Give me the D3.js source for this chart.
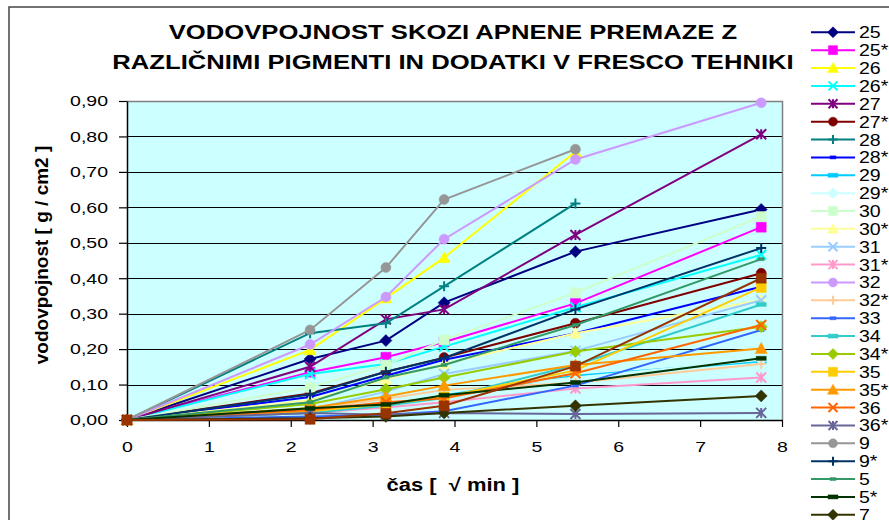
<!DOCTYPE html>
<html>
<head>
<meta charset="utf-8">
<script src="https://cdn.jsdelivr.net/npm/d3@7"></script>
<style>
  html, body { margin: 0; padding: 0; background: #fff; }
  svg { display: block; font-family: "Liberation Sans", Arial, sans-serif; }
</style>
</head>
<body>
<svg id="chart" width="889" height="520"></svg>
<script>
// Time axis: square root of minutes (√5, √10, √15, √30, √60)
const times = [0, 2.236, 3.162, 3.873, 5.477, 7.746];

const seriesNames = ["25", "25*", "26", "26*", "27", "27*", "28", "28*", "29", "29*",
  "30", "30*", "31", "31*", "32", "32*", "33", "34", "34*", "35", "35*", "36", "36*",
  "9", "9*", "5", "5*", "7", "7*"];

// Water uptake [g / cm2] per sample
const v25  = [0, 0.172, 0.224, 0.331, 0.475, 0.594];
const v25s = [0, 0.135, 0.177, 0.220, 0.329, 0.544];
const v26  = [0, 0.198, 0.344, 0.458, 0.757, null];
const v26s = [0, 0.130, 0.158, 0.207, 0.318, 0.466];
const v27  = [0, 0.150, 0.284, 0.312, 0.522, 0.806];
const v27s = [0, 0.075, 0.136, 0.176, 0.273, 0.414];
const v28  = [0, 0.245, 0.273, 0.377, 0.611, null];
const v28s = [0, 0.065, 0.125, 0.170, 0.245, 0.376];
const v29  = [0, 0.020, 0.040, 0.070, 0.125, 0.165];
const v29s = [0, 0.030, 0.050, 0.080, 0.120, 0.170];
const v30  = [0, 0.092, 0.155, 0.226, 0.359, 0.574];
const v30s = [0, 0.056, 0.115, 0.158, 0.245, 0.338];
const v31  = [0, 0.030, 0.080, 0.130, 0.195, 0.338];
const v31s = [0, 0.020, 0.035, 0.050, 0.089, 0.120];
const v32  = [0, 0.213, 0.347, 0.510, 0.735, 0.895];
const v32s = [0, 0.030, 0.060, 0.085, 0.105, 0.158];
const v33  = [0, 0.010, 0.015, 0.025, 0.097, 0.254];
const v34  = [0, 0.020, 0.040, 0.062, 0.155, 0.326];
const v34s = [0, 0.045, 0.087, 0.120, 0.193, 0.263];
const v35  = [0, 0.025, 0.045, 0.065, 0.140, 0.374];
const v35s = [0, 0.034, 0.066, 0.097, 0.155, 0.202];
const v36  = [0, 0.028, 0.050, 0.061, 0.132, 0.268];
const v36s = [0, 0.020, 0.015, 0.020, 0.017, 0.020];
const v9   = [0, 0.254, 0.430, 0.622, 0.764, null];
const v9s  = [0, 0.072, 0.136, 0.175, 0.312, 0.485];
const v5   = [0, 0.050, 0.120, 0.155, 0.268, 0.454];
const v5s  = [0, 0.033, 0.044, 0.070, 0.106, 0.174];
const v7   = [0, 0.005, 0.010, 0.020, 0.040, 0.068];
const v7s  = [0, 0.002, 0.019, 0.040, 0.152, 0.400];

const seriesValues = [v25, v25s, v26, v26s, v27, v27s, v28, v28s, v29, v29s,
  v30, v30s, v31, v31s, v32, v32s, v33, v34, v34s, v35, v35s, v36, v36s,
  v9, v9s, v5, v5s, v7, v7s];

const seriesColors = ["#000080", "#FF00FF", "#FFFF00", "#00FFFF", "#800080", "#800000",
  "#008080", "#0000FF", "#00CCFF", "#CCFFFF", "#CCFFCC", "#FFFF99", "#99CCFF", "#FF99CC",
  "#CC99FF", "#FFCC99", "#3366FF", "#33CCCC", "#99CC00", "#FFCC00", "#FF9900", "#FF6600",
  "#666699", "#969696", "#003366", "#339966", "#003300", "#333300", "#993300"];

const seriesMarkers = ["diamond", "square", "triangle", "x", "star", "circle",
  "plus", "dash", "longdash", "diamond", "square", "triangle", "x", "star",
  "circle", "plus", "dash", "longdash", "diamond", "square", "triangle", "x",
  "star", "circle", "plus", "dash", "longdash", "diamond", "square"];

const yTicks = [0, 0.1, 0.2, 0.3, 0.4, 0.5, 0.6, 0.7, 0.8, 0.9];
const xTicks = [0, 1, 2, 3, 4, 5, 6, 7, 8];

const titleLines = ["VODOVPOJNOST SKOZI APNENE PREMAZE Z",
  "RAZLIČNIMI PIGMENTI IN DODATKI V FRESCO TEHNIKI"];
const yTitle = "vodovpojnost [ g / cm2 ]";
const xTitle = "čas [  √ min ]";

const svg = d3.select("#chart");
const plot = { left: 127, right: 782, top: 101, bottom: 420 };

const x = d3.scaleLinear().domain([0, 8]).range([plot.left, plot.right]);
const y = d3.scaleLinear().domain([0, 0.9]).range([plot.bottom, plot.top]);

const fmt = d3.formatLocale({ decimal: ",", thousands: ".", grouping: [3], currency: ["", ""] }).format(".2f");

// Wide-set lettering: widen each text run by a factor
function widen(sel, factor) {
  sel.each(function () {
    const w = this.getComputedTextLength();
    d3.select(this).attr("textLength", w * factor).attr("lengthAdjust", "spacingAndGlyphs");
  });
}

// Outer chart frame
svg.append("rect").attr("x", 9).attr("y", 7).attr("width", 900).attr("height", 540)
  .attr("fill", "#fff").attr("stroke", "#444").attr("stroke-width", 1.5);

// Plot background
svg.append("rect")
  .attr("x", plot.left).attr("y", plot.top)
  .attr("width", plot.right - plot.left).attr("height", plot.bottom - plot.top)
  .attr("fill", "#CCFFFF");

// Horizontal gridlines
svg.append("g").selectAll("line")
  .data(yTicks.filter(t => t > 0 && t < 0.9))
  .join("line")
  .attr("x1", plot.left).attr("x2", plot.right)
  .attr("y1", d => Math.round(y(d)) + 0.5).attr("y2", d => Math.round(y(d)) + 0.5)
  .attr("stroke", "#000").attr("stroke-width", 1);

// Plot border (top / right)
svg.append("path")
  .attr("d", `M${plot.left},${plot.top + 0.5}H${plot.right + 0.5}V${plot.bottom}`)
  .attr("fill", "none").attr("stroke", "#808080").attr("stroke-width", 1.5);

// Axes
const yAxis = svg.append("g")
  .attr("transform", `translate(${plot.left},0)`)
  .call(d3.axisLeft(y).tickValues(yTicks).tickFormat(fmt).tickSize(8).tickSizeOuter(0).tickPadding(11));
const xAxis = svg.append("g")
  .attr("transform", `translate(0,${plot.bottom})`)
  .call(d3.axisBottom(x).tickValues(xTicks).tickFormat(d3.format("d")).tickSize(7).tickSizeOuter(0).tickPadding(14));

[yAxis, xAxis].forEach(g => {
  g.select(".domain").attr("stroke", "#000").attr("stroke-width", 1.5);
  g.selectAll(".tick line").attr("stroke", "#000").attr("stroke-width", 1.2);
  g.selectAll(".tick text").attr("fill", "#000").style("font-size", "15px")
    .style("font-family", "'Liberation Sans', Arial, sans-serif");
  widen(g.selectAll(".tick text"), 1.3);
});

// Marker shapes
function markerPath(kind, s) {
  const h = s / 2;
  switch (kind) {
    case "diamond": return `M0,${-h - 1}L${h + 1},0L0,${h + 1}L${-h - 1},0Z`;
    case "square": return `M${-h},${-h}H${h}V${h}H${-h}Z`;
    case "triangle": return `M0,${-h - 1}L${h + 1},${h}L${-h - 1},${h}Z`;
    case "circle": return d3.symbol(d3.symbolCircle, Math.PI * h * h)();
    case "x": return `M${-h},${-h}L${h},${h}M${-h},${h}L${h},${-h}`;
    case "plus": return `M${-h},0H${h}M0,${-h}V${h}`;
    case "star": return `M${-h},${-h}L${h},${h}M${-h},${h}L${h},${-h}M0,${-h}V${h}`;
    case "dash": return `M-3,-1.5H3V1.5H-3Z`;
    case "longdash": return `M-5,-2H5V2H-5Z`;
  }
}
const strokeOnly = k => k === "x" || k === "plus" || k === "star";

function drawMarker(g, kind, color, cx, cy, s) {
  const p = g.append("path").attr("d", markerPath(kind, s))
    .attr("transform", `translate(${cx},${cy})`);
  if (strokeOnly(kind)) p.attr("fill", "none").attr("stroke", color).attr("stroke-width", 2);
  else p.attr("fill", color).attr("stroke", color).attr("stroke-width", 0.5);
}

const line = d3.line()
  .defined(d => d.v !== null)
  .x(d => x(d.t)).y(d => y(d.v));

const seriesG = svg.append("g");
seriesNames.forEach((name, i) => {
  const pts = times.map((t, j) => ({ t, v: seriesValues[i][j] }));
  const g = seriesG.append("g");
  g.append("path").datum(pts).attr("d", line)
    .attr("fill", "none").attr("stroke", seriesColors[i]).attr("stroke-width", 2);
  pts.filter(d => d.v !== null).forEach(d =>
    drawMarker(g, seriesMarkers[i], seriesColors[i], x(d.t), y(d.v), 10));
});

// Title
svg.append("g").selectAll("text").data(titleLines).join("text")
  .attr("x", 453).attr("y", (d, i) => 39 + i * 30)
  .attr("text-anchor", "middle")
  .style("font-size", "21px").style("font-weight", "bold")
  .text(d => d)
  .call(widen, 1.22);

// Axis titles
svg.append("text")
  .attr("transform", `translate(48,255) rotate(-90)`)
  .attr("text-anchor", "middle")
  .style("font-size", "19px").style("font-weight", "bold")
  .text(yTitle);
svg.append("text")
  .attr("x", 453).attr("y", 491)
  .attr("text-anchor", "middle")
  .style("font-size", "18px").style("font-weight", "bold")
  .style("white-space", "pre")
  .text(xTitle)
  .call(widen, 1.22);

// Legend
const legend = svg.append("g");
seriesNames.forEach((name, i) => {
  const cy = 32.3 + i * 17.87;
  const g = legend.append("g");
  g.append("line").attr("x1", 811).attr("x2", 855).attr("y1", cy).attr("y2", cy)
    .attr("stroke", seriesColors[i]).attr("stroke-width", 2);
  drawMarker(g, seriesMarkers[i], seriesColors[i], 833, cy, 9);
  g.append("text").attr("x", 859).attr("y", cy + 6)
    .style("font-size", "16px").text(name)
    .call(widen, 1.22);
});
</script>
</body>
</html>
